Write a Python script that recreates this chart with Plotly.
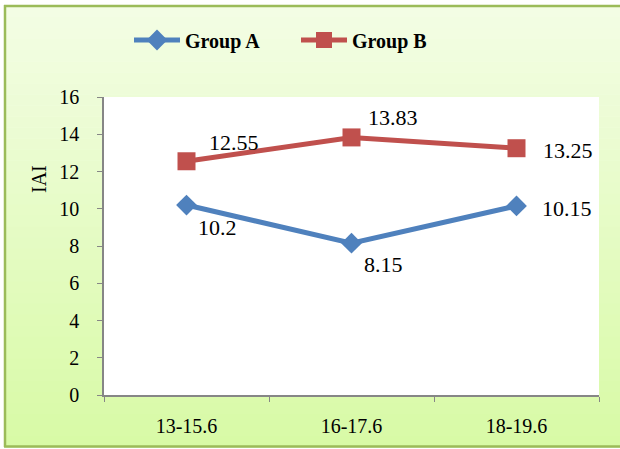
import plotly.graph_objects as go

categories = ["13-15.6", "16-17.6", "18-19.6"]
group_a = [10.2, 8.15, 10.15]
group_b = [12.55, 13.83, 13.25]
a_labels = ["10.2", "8.15", "10.15"]
b_labels = ["12.55", "13.83", "13.25"]
y_ticks = [0, 2, 4, 6, 8, 10, 12, 14, 16]

# label offsets (pixels) relative to each point
a_dx, a_dy = [9, 10, 23], [-22, -21, -3]
b_dx, b_dy = [20, 14, 24], [19, 20, -2]

W, H = 620, 449
L, R, T, B = 104, 599, 97, 395
pw, ph = R - L, B - T

def px(x):
    return (x - L) / pw

def py(y):
    return (B - y) / ph

font = "Liberation Serif"

fig = go.Figure()
fig.add_trace(go.Scatter(
    x=categories, y=group_a, name="Group A", mode="lines+markers",
    line=dict(color="#4F81BD", width=5),
    marker=dict(symbol="diamond", size=16, color="#4F81BD"),
))
fig.add_trace(go.Scatter(
    x=categories, y=group_b, name="Group B", mode="lines+markers",
    line=dict(color="#C0504D", width=5),
    marker=dict(symbol="square", size=18, color="#C0504D"),
))

annotations = []
for xs, ys, labels, dxs, dys in [(categories, group_a, a_labels, a_dx, a_dy),
                                  (categories, group_b, b_labels, b_dx, b_dy)]:
    for x, y, t, dx, dy in zip(xs, ys, labels, dxs, dys):
        annotations.append(dict(x=x, y=y, text=t, showarrow=False, xanchor="left",
                                yanchor="middle", xshift=dx, yshift=dy,
                                font=dict(family=font, size=22, color="black")))
annotations.append(dict(text="IAI", x=px(39), y=py(179), xref="paper", yref="paper",
                        textangle=-90, showarrow=False, xanchor="center", yanchor="middle",
                        font=dict(family=font, size=20, color="black")))

# gradient background (chart area) built from thin strips
top_c = (243, 253, 228)
bot_c = (216, 250, 166)
y_top, y_bot = 6, 447
n = 40
shapes = []
for i in range(n):
    f = i / (n - 1)
    c = tuple(round(top_c[k] + (bot_c[k] - top_c[k]) * f) for k in range(3))
    y0 = y_top + (y_bot - y_top) * i / n
    y1 = y_top + (y_bot - y_top) * (i + 1) / n
    shapes.append(dict(type="rect", xref="paper", yref="paper",
                       x0=px(5), x1=px(630), y0=py(y1 + 0.5), y1=py(y0),
                       fillcolor="rgb(%d,%d,%d)" % c, line=dict(width=0), layer="below"))
border = dict(color="#9BBB59", width=2.5)
shapes.append(dict(type="line", xref="paper", yref="paper", x0=px(5), x1=px(5),
                   y0=py(447), y1=py(5), line=border, layer="below"))
shapes.append(dict(type="line", xref="paper", yref="paper", x0=px(4), x1=px(630),
                   y0=py(6), y1=py(6), line=border, layer="below"))
shapes.append(dict(type="line", xref="paper", yref="paper", x0=px(4), x1=px(630),
                   y0=py(446.5), y1=py(446.5), line=border, layer="below"))
shapes.append(dict(type="rect", xref="paper", yref="paper", x0=0, x1=1, y0=0, y1=1,
                   fillcolor="white", line=dict(width=0), layer="below"))

fig.update_layout(
    width=W, height=H,
    margin=dict(l=L, r=W - R, t=T, b=H - B),
    paper_bgcolor="white", plot_bgcolor="rgba(0,0,0,0)",
    shapes=shapes,
    annotations=annotations,
    showlegend=True,
    legend=dict(orientation="h", x=px(129), xanchor="left", y=py(40), yanchor="middle",
                font=dict(family=font, size=20, color="black", weight="bold"),
                bgcolor="rgba(0,0,0,0)", entrywidth=106, itemwidth=46, tracegroupgap=0),
    font=dict(family=font, color="black"),
)
fig.update_xaxes(
    type="category", range=[-0.5, 2.5], showline=True, linecolor="#868686", linewidth=1.5,
    ticks="outside", ticklen=5, tickcolor="#868686", tickson="boundaries",
    tickfont=dict(family=font, size=20, color="black"), ticklabelstandoff=12,
    showgrid=False, zeroline=False, mirror=False,
)
fig.update_yaxes(
    range=[0, 16], tickvals=y_ticks, showline=True, linecolor="#868686", linewidth=1.5,
    ticks="outside", ticklen=5, tickcolor="#868686",
    tickfont=dict(family=font, size=20, color="black"), ticklabelstandoff=14,
    showgrid=False, zeroline=False,
)

fig.write_html("out.html")
